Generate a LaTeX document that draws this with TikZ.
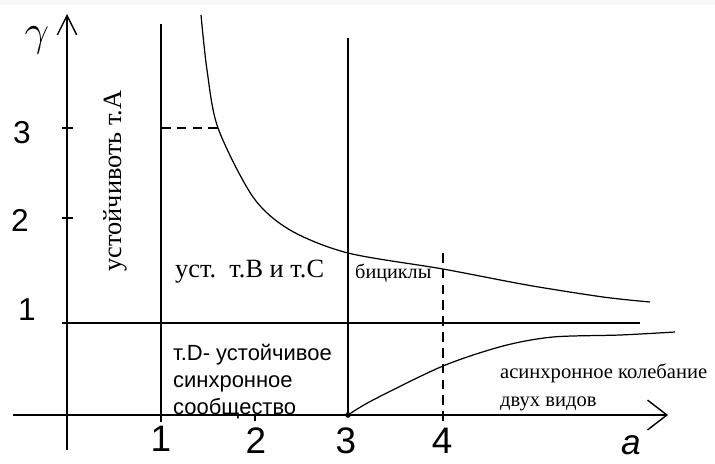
\documentclass[tikz,border=0pt]{standalone}
\usepackage{fontspec}
\setmainfont{Liberation Serif}
\newfontfamily\arialfnt{Liberation Sans}
\usetikzlibrary{arrows.meta}

\tikzset{
  axisline/.style={line width=0.8pt},
  curveline/.style={line width=0.7pt},
  guideline/.style={line width=0.7pt, dash pattern=on 5.5pt off 3.5pt},
  numlabel/.style={font=\arialfnt\fontsize{18}{18}\selectfont},
  xnumlabel/.style={font=\arialfnt\fontsize{21}{21}\selectfont},
  regionlabel/.style={font=\fontsize{15}{15}\selectfont},
}

\begin{document}
\begin{tikzpicture}[x=0.02cm, y=-0.02cm]
    \useasboundingbox (0,0) rectangle (715,463);
    \fill[white] (0,0) rectangle (715,463);
    \fill[gray!6] (0,0) rectangle (715,5);

    %% axes
    \coordinate (yBot) at (67,450);
    \coordinate (yTop) at (67,14);
    \coordinate (xLeft) at (13,415);
    \coordinate (xRight) at (668,415);
    \draw[axisline, -{Straight Barb[length=11pt, width=11pt]}] (yBot) -- (yTop);
    \draw[axisline, -{Straight Barb[length=11pt, width=17pt]}] (xLeft) -- (xRight);
    \node[font=\Huge] (gam) at (37,40) {$\gamma$};
    \node[font=\arialfnt\itshape\fontsize{20}{20}\selectfont] (alab) at (631,445) {а};

    %% ticks and numbers
    \draw[axisline] (62,128) -- (73,128);
    \draw[axisline] (62,218) -- (73,218);
    \draw[axisline] (255,415) -- (255,421);
    \node[numlabel] (y3) at (22,133) {3};
    \node[numlabel] (y2) at (20,220) {2};
    \node[numlabel] (y1) at (27,310) {1};
    \node[xnumlabel] (x1) at (161,439) {1};
    \node[xnumlabel] (x2) at (256,441) {2};
    \node[xnumlabel] (x3) at (346,441) {3};
    \node[xnumlabel] (x4) at (442,441) {4};

    %% boundaries
    \coordinate (aOneTop) at (161,24);
    \coordinate (aOneBot) at (161,422);
    \coordinate (aThreeTop) at (348,38);
    \coordinate (aThreeMid) at (348,253);
    \coordinate (aThreeOne) at (348,323);
    \coordinate (aThreeBot) at (348,415);
    \draw[axisline] (aOneTop) -- (aOneBot);
    \draw[axisline] (aThreeTop) -- (aThreeBot);
    \draw[line width=1.6pt] (aThreeMid) -- (aThreeOne);
    \draw[axisline] (62,323) -- (640,323);
    \draw[guideline] (443,253) -- (443,422);
    \draw[guideline] (aOneTop |- 0,128) -- (218,128);

    %% upper branch
    \draw[curveline] plot[smooth, tension=0.5] coordinates {(201,15) (207,70) (218,128)
      (253,197) (290,230) (348,253) (443,269) (527,285) (603,297) (650,302)};
    %% lower branch
    \draw[curveline] plot[smooth, tension=0.5] coordinates {(aThreeBot) (373,400)
      (443,366) (503,346) (553,337) (620,335) (675,332)};
    \fill (aThreeBot) circle (1.6pt);

    %% region labels
    \node[regionlabel, rotate=90] (stabA) at (115,181) {устойчивоть т.А};
    \node[regionlabel, anchor=west] (stabBC) at (169,272) {уст.\ \ т.В и т.С};
    \node[font=\fontsize{11.5}{11.5}\selectfont, anchor=west] (bicyc) at (349,273) {бициклы};
    \node[font=\arialfnt\fontsize{12.5}{15.5}\selectfont, align=left, anchor=north west]
      (syncD) at (167,338) {т.D- устойчивое\\синхронное\\сообщество};
    \node[font=\fontsize{11.7}{15.5}\selectfont, align=left, anchor=north west]
      (async) at (494,358) {асинхронное колебание\\двух видов};
  \end{tikzpicture}
\end{document}
